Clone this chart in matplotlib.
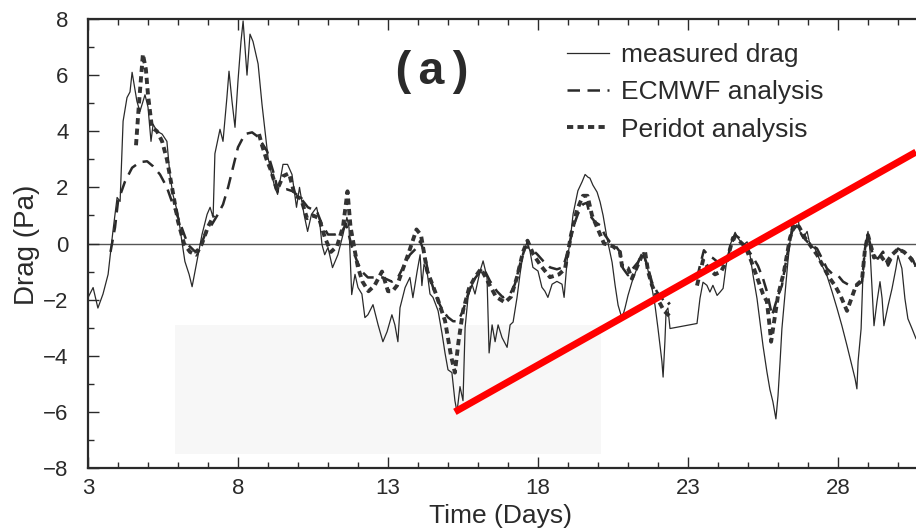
import numpy as np
import matplotlib.pyplot as plt
from matplotlib.patches import Rectangle

nan = np.nan

# measured drag (Pa) vs time (days)
measured_days = [3.0, 3.17, 3.33, 3.5, 3.67, 3.83, 3.97, 4.07, 4.17, 4.3, 4.4, 4.47, 4.63, 4.73,
                 4.9, 5.0, 5.1, 5.17, 5.3, 5.47, 5.63, 5.73, 5.83, 6.0, 6.13, 6.23, 6.37, 6.47,
                 6.63, 6.8, 6.97, 7.07, 7.17, 7.23, 7.4, 7.5, 7.63, 7.7, 7.8, 7.9, 8.0, 8.1, 8.17,
                 8.3, 8.4, 8.5, 8.67, 8.8, 8.9, 9.0, 9.12, 9.23, 9.32, 9.5, 9.65, 9.8, 9.95, 10.05,
                 10.2, 10.32, 10.45, 10.62, 10.72, 10.8, 10.89, 11.0, 11.15, 11.33, 11.5, 11.63,
                 11.7, 11.79, 11.9, 12.0, 12.13, 12.23, 12.33, 12.5, 12.67, 12.83, 12.97, 13.13,
                 13.23, 13.33, 13.4, 13.57, 13.73, 13.83, 13.97, 14.07, 14.13, 14.2, 14.3, 14.4,
                 14.5, 14.67, 14.8, 14.9, 15.0, 15.13, 15.23, 15.3, 15.4, 15.5, 15.57, 15.67,
                 15.8, 15.9, 16.07, 16.17, 16.3, 16.37, 16.47, 16.57, 16.67, 16.8, 16.97, 17.07,
                 17.17, 17.3, 17.4, 17.5, 17.63, 17.73, 17.83, 18.0, 18.13, 18.23, 18.33, 18.47,
                 18.63, 18.8, 18.87, 18.97, 19.07, 19.17, 19.33, 19.47, 19.57, 19.67, 19.73,
                 19.83, 19.97, 20.07, 20.17, 20.3, 20.47, 20.57, 20.67, 20.8, 20.9, 21.0, 21.13,
                 21.3, 21.4, 21.5, 21.63, 21.8, 21.9, 22.0, 22.13, 22.17, 22.23, 22.27, 22.33,
                 22.4, 23.3, 23.4, 23.5, 23.63, 23.73, 23.83, 23.97, 24.07, 24.17, 24.27, 24.4,
                 24.57, 24.67, 24.83, 24.97, 25.07, 25.17, 25.3, 25.4, 25.5, 25.63, 25.73, 25.83,
                 25.93, 26.0, 26.07, 26.13, 26.23, 26.33, 26.4, 26.47, 26.57, 26.67, 26.73, 26.83,
                 26.97, 27.07, 27.23, 27.33, 27.47, 27.63, 27.8, 27.97, 28.13, 28.3, 28.43, 28.57,
                 28.63, 28.67, 28.77, 28.83, 28.93, 29.0, 29.07, 29.13, 29.2, 29.3, 29.4, 29.47,
                 29.53, 29.67, 29.8, 29.93, 30.0, 30.13, 30.23, 30.33, 30.47, 30.6]
measured_vals = [-1.93, -1.57, -2.3, -1.8, -1.1, 0.43, 1.64, 1.5, 4.36, 5.2, 5.4, 6.1, 5.07, 4.7,
                 5.3, 4.86, 3.64, 4.25, 4.0, 3.9, 3.64, 2.46, 1.75, 1.04, 0.07, -0.64, -1.1, -1.54,
                 -0.64, 0.32, 1.04, 1.29, 0.93, 3.2, 4.07, 3.64, 5.2, 6.14, 5.07, 4.14, 5.8, 7.2, 7.93,
                 6.0, 7.46, 7.2, 6.4, 4.96, 4.0, 3.07, 2.46, 2.0, 1.75, 2.82, 2.82, 2.46, 1.29, 2.0,
                 1.04, 0.43, 1.04, 1.29, 0.79, -0.04, -0.4, -0.14, -0.86, -0.4, 0.32, 0.93,
                 0.57, -1.82, -1.1, -1.57, -1.8, -2.64, -2.54, -2.18, -2.9, -3.5, -3.14, -2.54,
                 -2.9, -3.5, -2.29, -1.57, -1.21, -1.93, -1.0, -0.4, -1.5, -0.74, -0.98, -1.8,
                 -1.92, -2.4, -3.2, -3.9, -4.5, -4.6, -5.6, -6.0, -5.1, -5.6, -3.0, -1.9,
                 -1.45, -1.8, -0.98, -0.62, -1.2, -3.9, -2.9, -3.5, -2.9, -3.35, -3.7, -2.9,
                 -2.8, -1.93, -1.1, -0.38, 0.04, -0.26, -0.85, -0.98, -1.56, -1.7, -1.92, -1.45,
                 -1.35, -1.45, -1.92, -0.62, 0.1, 1.05, 1.88, 2.2, 2.46, 2.36, 2.33,
                 2.08, 1.83, 1.48, 1.0, 0.19, -0.67, -1.49, -2.2, -2.67, -2.3, -1.85, -1.38,
                 -0.88, -0.52, -0.42, -0.78, -1.6, -2.2, -3.03, -4.2, -4.76, -3.5, -2.4, -2.3,
                 -3.03, -2.85, -1.95, -1.38, -1.49, -1.73, -1.49, -1.85, -1.73, -1.6, -0.78, -0.06,
                 0.4, 0.19, -0.06, 0.06, -0.43, -1.14, -1.96, -2.8, -3.64, -4.57, -5.2, -5.64,
                 -6.25, -5.43, -4.2, -3.04, -1.86, -0.64, 0.07, 0.82, 0.79, 0.89, 0.43, 0.18,
                 0.43, -0.07, -0.18, -0.43, -0.79, -1.14, -1.71, -2.32, -2.93, -3.64, -4.21, -4.82,
                 -5.18, -4.2, -3.04, -1.14, 0.07, 0.43, -0.29, -1.5, -2.93, -2.07, -1.36, -1.96,
                 -2.93, -2.21, -1.61, -0.89, -0.43, -0.89, -1.96, -2.68, -3.04, -3.39]

# ECMWF analysis
ecmwf_days = [3.75, 3.9, 4.0, 4.23, 4.47, 4.73, 4.97, 5.17, 5.4, 5.63, 5.83, 6.0, 6.17, 6.33,
              6.57, 6.73, 6.9, 7.13, 7.33, 7.5, 7.67, 7.83, 8.0, 8.23, 8.47, 8.67, 8.73, 8.97,
              9.07, 9.23, 9.33, 9.63, 9.83, 10.07, 10.33, 10.63, 10.8, 11.0, 11.23, 11.47, 11.6,
              11.8, 11.97, 12.13, 12.33, 12.57, 12.83, 13.13, 13.33, 13.5, 13.73, 13.97, 14.07,
              14.2, 14.33, 14.5, 14.67, 14.83, 15.0, 15.17, 15.33, 15.5, 15.67, 15.83, 16.0,
              16.17, 16.4, 16.63, 16.83, 17.07, 17.23, 17.4, 17.57, 17.73, 17.97, 18.17, 18.4,
              18.63, 18.83, 19.0, 19.17, 19.33, 19.5, 19.63, 19.73, 19.9, 20.07, 20.23, 20.4,
              20.57, 20.73, 20.83, 21.0, 21.17, 21.33, 21.5, 21.67, 21.8, 21.97, 22.13, 22.3,
              22.4, 22.8, 23.3, 23.4, 23.53, 23.67, 23.83, 24.0, 24.17, 24.3, 24.4, 24.57, 24.73,
              24.9, 25.13, 25.33, 25.5, 25.63, 25.73, 25.8, 25.9, 26.0, 26.13, 26.3, 26.47,
              26.63, 26.8, 26.97, 27.13, 27.3, 27.47, 27.63, 27.8, 28.0, 28.17, 28.4, 28.63,
              28.8, 28.9, 29.0, 29.17, 29.33, 29.5, 29.67, 29.83, 30.0, 30.17, 30.33, 30.47, 30.6]
ecmwf_vals = [-0.3, 0.57, 1.5, 2.2, 2.7, 2.9, 2.93, 2.75, 2.46, 2.0, 1.39, 0.93, 0.43, -0.04,
              -0.29, -0.14, 0.32, 0.68, 1.04, 1.39, 2.0, 2.7, 3.43, 3.9, 3.96, 3.8, 3.7, 3.29,
              2.93, 2.36, 1.86, 1.93, 1.86, 1.64, 1.29, 1.14, 0.68, 0.32, 0.32, 0.43, 0.7,
              -0.14, -0.64, -1.0, -1.21, -1.21, -1.21, -1.36, -1.21, -0.86, -0.4, -0.14, 0.08,
              -0.27, -0.98, -1.56, -2.06, -2.4, -2.63, -2.77, -2.77, -2.4, -1.8, -1.34, -1.1,
              -0.85, -1.34, -1.7, -1.92, -1.8, -1.45, -0.74, -0.14, -0.14, -0.38, -0.62, -0.85,
              -0.92, -0.85, -0.27, 0.58, 1.05, 1.4, 1.45, 1.0, 0.77, 0.65, 0.3, 0.05,
              -0.06, -0.3, -0.88, -1.13, -0.88, -0.67, -0.3, -0.88, -1.38, -1.73, -1.95, -2.2,
              -2.1, nan, -1.24, -0.78, -0.24, -0.42, -0.52, -0.67, -0.78, -0.67, -0.17, 0.3, 0.18,
              -0.06, -0.43, -0.79, -1.25, -1.71, -2.21, -2.57, -2.21, -1.86, -1.5, -0.43, 0.43,
              0.64, 0.29, 0.07, -0.07, -0.18, -0.54, -0.89, -1.07, -1.14, -1.36, -1.5, -1.5,
              -1.36, -0.18, 0.29, -0.43, -0.54, -0.29, -0.79, -0.43, -0.18, -0.29, -0.43, -0.54, -0.82]

# Peridot analysis (nan = no visible trace)
peridot_days = [4.6, 4.7, 4.83, 4.93, 5.0, 5.13, 5.3, 5.47, 5.63, 5.8, 6.0, 6.2, 6.4, 6.6, 6.8,
                7.0, 7.2, 8.0, 8.7, 8.8, 8.95, 9.1, 9.3, 9.5, 9.7, 9.9, 10.1, 10.3,
                10.5, 10.7, 10.9, 11.1, 11.3, 11.5, 11.65, 11.75, 11.9, 12.0, 12.15, 12.35, 12.55,
                12.8, 13.0, 13.15, 13.3, 13.5, 13.7, 13.95, 14.1, 14.3, 14.6, 14.9, 15.1, 15.23,
                15.35, 15.5, 15.7, 15.9, 16.1, 16.3, 16.6, 16.9, 17.1, 17.3, 17.5, 17.65, 17.85,
                18.1, 18.4, 18.7, 18.9, 19.1, 19.3, 19.5, 19.65, 19.8, 20.0, 20.2, 20.5, 20.73,
                20.8, 21.0, 21.13, 21.23, 21.47, 21.57, 21.67, 21.8, 22.0, 22.2, 22.4, 22.8, 23.3,
                23.5, 23.7, 23.9, 24.1, 24.3, 24.5, 24.7, 24.9, 25.1, 25.3, 25.5, 25.63, 25.73,
                25.77, 25.9, 26.0, 26.2, 26.4, 26.55, 26.7, 26.9, 27.1, 27.3, 27.5, 27.7, 27.9,
                28.1, 28.3, 28.6, 28.8, 28.9, 29.0, 29.2, 29.4, 29.6, 29.8, 30.0, 30.2, 30.4, 30.6]
peridot_vals = [3.5, 5.0, 6.75, 6.2, 5.3, 4.14, 4.0, 3.64, 3.0, 2.0, 0.79, 0.0, -0.3, -0.4, 0.0,
                0.6, 1.0, nan, 3.9, 3.5, 3.0, 2.6, 1.9, 2.4, 2.5, 1.7, 1.6, 0.9,
                1.0, 0.9, 0.2, -0.3, -0.1, 0.6, 1.86, 0.6, -0.3, -0.86, -1.36, -1.7, -1.5,
                -1.0, -1.7, -1.7, -1.5, -0.9, -0.3, 0.5, 0.3, -0.96, -1.8, -2.75, -4.0, -4.6,
                -3.5, -2.4, -1.6, -1.2, -0.9, -1.3, -1.9, -2.1, -1.9, -1.2, -0.3, 0.1, -0.4,
                -0.8, -1.2, -1.1, -0.9, 0.3, 1.2, 1.7, 1.7, 1.0, 0.5, 0.0, -0.1, -0.3,
                -0.8, -0.88, -1.25, -1.0, -0.42, -0.3, -1.0, -1.49, -2.0, -2.4, -2.6, nan, -1.5,
                -0.6, -0.9, -1.1, -1.0, -0.6, 0.2, 0.1, -0.1, -0.6, -1.2, -1.8, -2.07, -3.04,
                -3.5, -2.57, -1.86, -1.0, 0.2, 0.7, 0.6, 0.2, -0.1, -0.4, -0.8, -1.2, -1.5,
                -1.9, -2.4, -1.5, -1.3, -0.2, 0.3, -0.5, -0.4, -0.7, -0.4, -0.2, -0.3, -0.5, -0.8]

# red overlay line
red_days = [15.23, 30.6]
red_vals = [-6.0, 3.26]

ink = '#2a2a2a'

fig = plt.figure(figsize=(9.16, 5.30), dpi=100)
ax = fig.add_axes([88 / 916, (530 - 468) / 530, (988 - 88) / 916, (468 - 19) / 530])

# faint grey patch left by the scan
ax.add_patch(Rectangle((5.9, -7.5), 14.2, 4.6, color='#f7f7f7', lw=0, zorder=0))

ax.axhline(0, color='#555555', lw=1.0, zorder=1)

ax.plot(measured_days, measured_vals, color=ink, lw=0.9, label='measured drag', zorder=3)
ax.plot(ecmwf_days, ecmwf_vals, color=ink, lw=1.8, dashes=(5, 3), label='ECMWF analysis', zorder=2)
ax.plot(peridot_days, peridot_vals, color='#333333', lw=2.8, dashes=(1.6, 1.1),
        label='Peridot analysis', zorder=2)

ax.plot(red_days, red_vals, color='#ff0000', lw=5, solid_capstyle='butt', zorder=5,
        clip_on=False)

ax.set_xlim(3, 33)
ax.set_ylim(-8, 8)
ax.set_xticks(np.arange(3, 29, 5))
ax.set_xticks(np.arange(3, 34, 1), minor=True)
ax.set_yticks(np.arange(-8, 9, 2))
ax.set_yticks(np.arange(-8, 9, 1), minor=True)
ax.tick_params(which='both', direction='in', top=True, right=False, color=ink, width=1.0)
ax.tick_params(which='major', length=8)
ax.tick_params(which='minor', length=4)
ax.tick_params(axis='y', labelsize=16, pad=14, labelcolor=ink)
ax.tick_params(axis='x', labelsize=16, pad=7, labelcolor=ink)
for lab in ax.get_xticklabels() + ax.get_yticklabels():
    lab.set_family(['Liberation Sans', 'DejaVu Sans'])
for s in ['left', 'bottom', 'top']:
    ax.spines[s].set_linewidth(1.6)
    ax.spines[s].set_color(ink)
ax.spines['right'].set_visible(False)

fig.text(500 / 916, 1 - 516 / 530, 'Time (Days)', ha='center', va='center', fontsize=19,
         color=ink, family=['Liberation Sans', 'DejaVu Sans'])
fig.text(27 / 916, 1 - 245 / 530, 'Drag (Pa)', ha='center', va='center', rotation=90,
         fontsize=20, color=ink, family=['Liberation Sans', 'DejaVu Sans'])
fig.text(432 / 916, 1 - 72 / 530, '(a)', ha='center', va='center', fontsize=34,
         fontweight='bold', color=ink, family=['Liberation Mono', 'DejaVu Sans Mono'])

leg = ax.legend(loc='upper left', bbox_to_anchor=(554 / 916, 1 - 30 / 530),
                bbox_transform=fig.transFigure, frameon=False, fontsize=19,
                handlelength=1.6, handletextpad=0.45, labelspacing=0.5, borderpad=0)
for t in leg.get_texts():
    t.set_color(ink)
    t.set_family(['Liberation Sans', 'DejaVu Sans'])

fig.savefig('out.png', dpi=100)
